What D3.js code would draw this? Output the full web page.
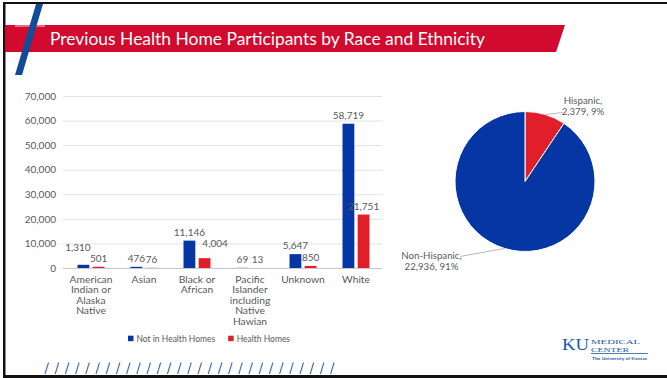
<!DOCTYPE html>
<html>
<head>
<meta charset="utf-8">
<script src="https://cdn.jsdelivr.net/npm/d3@7"></script>
<style>
  html, body { margin: 0; padding: 0; background: #fff; }
  svg { display: block; }
  text { font-family: Lato, "Open Sans", sans-serif; }
</style>
</head>
<body>
<svg id="chart" width="667" height="378"></svg>
<script>
// ---------------- DATA ----------------
const titleText = "Previous Health Home Participants by Race and Ethnicity";
const categories = ["American Indian or Alaska Native", "Asian", "Black or African",
  "Pacific Islander including Native Hawian", "Unknown", "White"];
const seriesNames = ["Not in Health Homes", "Health Homes"];
const notInHealthHomes = [1310, 476, 11146, 69, 5647, 58719];
const healthHomes = [501, 76, 4004, 13, 850, 21751];
const yTicks = [0, 10000, 20000, 30000, 40000, 50000, 60000, 70000];
const pieLabels = ["Hispanic", "Non-Hispanic"];
const pieValues = [2379, 22936];
const piePercents = ["9%", "91%"];

// ---------------- STYLE ----------------
const BLUE = "#0536a3", RED = "#e01f2b", GREY = "#595959";
const svg = d3.select("#chart");
svg.append("rect").attr("width", 667).attr("height", 378).attr("fill", "#fff");

// slide frame
svg.append("rect").attr("x", 3).attr("y", 2).attr("width", 667).attr("height", 2).attr("fill", "#111");
svg.append("rect").attr("x", 3).attr("y", 2).attr("width", 2.5).attr("height", 376).attr("fill", "#111");
svg.append("rect").attr("x", 3).attr("y", 375).attr("width", 667).attr("height", 3).attr("fill", "#111");

// title band
svg.append("polygon").attr("points", "5,25 565,25 556,52 5,52").attr("fill", "#d10a2e");
svg.append("rect").attr("x", 15).attr("y", 25).attr("width", 30).attr("height", 2).attr("fill", "#e86a80");
svg.append("polygon").attr("points", "36,4 43,4 22,75 15,75").attr("fill", "#124c98");
svg.append("text").attr("x", 50).attr("y", 45).attr("fill", "#fff")
  .attr("font-size", 18).attr("textLength", 435).attr("lengthAdjust", "spacingAndGlyphs")
  .text(titleText);

// ---------------- BAR CHART ----------------
const y = d3.scaleLinear().domain([0, 70000]).range([268, 96]);
const x = d3.scaleBand().domain(categories).range([64.5, 382.5]);
const groupW = 27;
const xi = d3.scaleBand().domain(seriesNames).range([0, groupW]).paddingInner(0.22);
const color = d3.scaleOrdinal().domain(seriesNames).range([BLUE, RED]);
const fmt = d3.format(",");

// gridlines
const grid = svg.append("g").attr("transform", "translate(63,0)")
  .call(d3.axisLeft(y).tickValues(yTicks).tickSize(-319.5).tickFormat(""));
grid.select(".domain").remove();
grid.selectAll("line").attr("stroke", d => d === 0 ? "#c8c8c8" : "#e3e3e3").attr("stroke-width", 1);

// y axis labels
const yAx = svg.append("g").attr("transform", "translate(63,0)")
  .call(d3.axisLeft(y).tickValues(yTicks).tickSize(0).tickPadding(7).tickFormat(fmt));
yAx.select(".domain").remove();
yAx.selectAll("text").attr("fill", GREY).attr("font-size", 10).style("font-family", "Lato, sans-serif");

// bars
const rows = [];
categories.forEach((c, i) => {
  rows.push({ cat: c, s: seriesNames[0], v: notInHealthHomes[i] });
  rows.push({ cat: c, s: seriesNames[1], v: healthHomes[i] });
});
const bx = d => x(d.cat) + (x.bandwidth() - groupW) / 2 + xi(d.s);
svg.append("g").selectAll("rect").data(rows).join("rect")
  .attr("x", bx).attr("width", xi.bandwidth())
  .attr("y", d => y(d.v)).attr("height", d => y(0) - y(d.v))
  .attr("fill", d => color(d.s));

// data labels (small nudges where the original moved them to avoid overlap)
const nudge = { "American Indian or Alaska Native|Not in Health Homes": [-5.5, -9],
  "Black or African|Health Homes": [10.5, -6] };
svg.append("g").selectAll("text").data(rows).join("text")
  .attr("x", d => bx(d) + xi.bandwidth() / 2 + ((nudge[d.cat + "|" + d.s] || [0, 0])[0]))
  .attr("y", d => y(d.v) - 5 + ((nudge[d.cat + "|" + d.s] || [0, 0])[1]))
  .attr("text-anchor", "middle").attr("fill", GREY).attr("font-size", 10)
  .text(d => fmt(d.v));

// category labels (wrapped)
const catG = svg.append("g");
categories.forEach(c => {
  const t = catG.append("text").attr("text-anchor", "middle").attr("fill", GREY).attr("font-size", 10.3);
  const words = c.split(" ");
  let lines = [], line = [];
  const probe = t.append("tspan");
  words.forEach(w => {
    line.push(w);
    probe.text(line.join(" "));
    if (probe.node().getComputedTextLength() > 48 && line.length > 1) {
      line.pop(); lines.push(line.join(" ")); line = [w];
    }
  });
  lines.push(line.join(" "));
  probe.remove();
  lines.forEach((l, k) => {
    t.append("tspan").attr("x", x(c) + x.bandwidth() / 2).attr("y", 282.5 + k * 10.6).text(l);
  });
});

// legend
const leg = svg.append("g").attr("transform", "translate(128,338.5)");
let lx = 0;
seriesNames.forEach(s => {
  const g = leg.append("g").attr("transform", `translate(${lx},0)`);
  g.append("rect").attr("x", 0).attr("y", -2.8).attr("width", 5.5).attr("height", 5.5).attr("fill", color(s));
  const t = g.append("text").attr("x", 8.5).attr("y", 3.2).attr("fill", GREY).attr("font-size", 8.5).text(s);
  lx += 8.5 + t.node().getComputedTextLength() + 13;
});

// bottom slashes
svg.append("g").selectAll("line").data(d3.range(29)).join("line")
  .attr("x1", i => 45 + i * 10.2).attr("y1", 374)
  .attr("x2", i => 48.5 + i * 10.2).attr("y2", 362.5)
  .attr("stroke", "#3d6cc9").attr("stroke-width", 1.1);

// ---------------- PIE ----------------
const cx = 525, cy = 181.5, R = 70;
const pie = d3.pie().sort(null).value(d => d)(pieValues);
const arc = d3.arc().innerRadius(0).outerRadius(R);
const pg = svg.append("g").attr("transform", `translate(${cx},${cy})`);
pg.selectAll("path").data(pie).join("path").attr("d", arc)
  .attr("fill", (d, i) => [RED, BLUE][i]).attr("stroke", "#fff").attr("stroke-width", 1);

// pie labels: [leader end dx, dy], [text center dx, first baseline dy]
const pieLab = [
  { end: [37.5, -69], txt: [58, -78] },
  { end: [-65, 75], txt: [-93.5, 77.5] }
];
pie.forEach((d, i) => {
  const a = (d.startAngle + d.endAngle) / 2;
  const px = R * Math.sin(a), py = -R * Math.cos(a);
  pg.append("line").attr("x1", px).attr("y1", py)
    .attr("x2", pieLab[i].end[0]).attr("y2", pieLab[i].end[1])
    .attr("stroke", "#a6a6a6").attr("stroke-width", 0.8);
  const t = pg.append("text").attr("text-anchor", "middle").attr("fill", GREY).attr("font-size", 9.7);
  t.append("tspan").attr("x", pieLab[i].txt[0]).attr("y", pieLab[i].txt[1]).text(pieLabels[i] + ",");
  t.append("tspan").attr("x", pieLab[i].txt[0]).attr("y", pieLab[i].txt[1] + 11)
    .text(fmt(pieValues[i]) + ", " + piePercents[i]);
});

// ---------------- LOGO ----------------
const logo = svg.append("g");
logo.append("text").attr("x", 562).attr("y", 349.5).attr("fill", "#1d5aa6")
  .attr("font-size", 16.5)
  .attr("textLength", 27).attr("lengthAdjust", "spacingAndGlyphs").style("font-family", "Liberation Serif, serif").text("KU");
logo.append("text").attr("x", 591).attr("y", 344.3).attr("fill", "#1d5aa6")
  .attr("font-size", 6.8).attr("textLength", 49).attr("lengthAdjust", "spacingAndGlyphs")
  .style("font-family", "Liberation Serif, serif").text("MEDICAL");
logo.append("text").attr("x", 591).attr("y", 351.5).attr("fill", "#1d5aa6")
  .attr("font-size", 6.8).attr("textLength", 38).attr("lengthAdjust", "spacingAndGlyphs")
  .style("font-family", "Liberation Serif, serif").text("CENTER");
logo.append("line").attr("x1", 591).attr("x2", 648).attr("y1", 353.5).attr("y2", 353.5)
  .attr("stroke", "#1d5aa6").attr("stroke-width", 0.8);
logo.append("text").attr("x", 592).attr("y", 359.5).attr("fill", "#1d5aa6")
  .attr("font-size", 4.5).attr("font-weight", "bold").attr("textLength", 55).attr("lengthAdjust", "spacingAndGlyphs")
  .text("The University of Kansas");
</script>
</body>
</html>
